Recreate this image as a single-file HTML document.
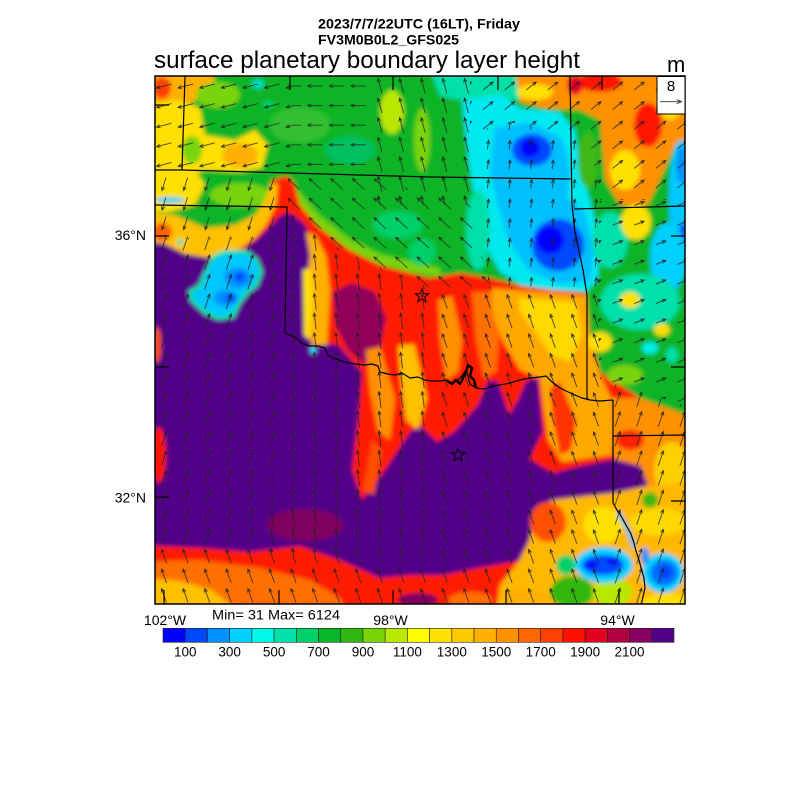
<!DOCTYPE html>
<html><head><meta charset="utf-8">
<style>
html,body{margin:0;padding:0;background:#fff}
svg{display:block}
text{font-family:"Liberation Sans",Arial,sans-serif;fill:#000}
</style></head>
<body>
<svg xmlns="http://www.w3.org/2000/svg" width="800" height="800" viewBox="0 0 800 800">
<defs>
<clipPath id="mc"><rect x="155" y="76" width="530" height="528"/></clipPath>
<filter id="bl" x="-10%" y="-10%" width="120%" height="120%"><feGaussianBlur stdDeviation="2"/></filter>
<path id="star" d="M0,-7 L1.705,-2.346 6.657,-2.163 2.758,0.896 4.114,5.663 0,2.9 -4.114,5.663 -2.758,0.896 -6.657,-2.163 -1.705,-2.346Z"/>
<g id="ar" fill="none" stroke="#222" stroke-width="0.75"></g>
<pattern id="pN" patternUnits="userSpaceOnUse" x="153.2" y="76.2" width="21.6" height="19.6"><path d="M11.8,17.8L9.8,1.8M8.64,5.63L9.8,1.8L11.87,5.22" fill="none" stroke="#222" stroke-width="0.75"/></pattern>
<pattern id="pNNE" patternUnits="userSpaceOnUse" x="153.2" y="76.2" width="21.6" height="19.6"><path d="M8.3,17.3L13.3,2.3M10.6,5.25L13.3,2.3L13.69,6.28" fill="none" stroke="#222" stroke-width="0.75"/></pattern>
<pattern id="pNNW" patternUnits="userSpaceOnUse" x="153.2" y="76.2" width="21.6" height="19.6"><path d="M13.3,16.8L8.3,2.8M8.0,6.79L8.3,2.8L11.06,5.69" fill="none" stroke="#222" stroke-width="0.75"/></pattern>
<pattern id="pWSW" patternUnits="userSpaceOnUse" x="153.2" y="76.2" width="21.6" height="19.6"><path d="M18.3,7.8L3.3,11.8M7.25,12.43L3.3,11.8L6.41,9.29" fill="none" stroke="#222" stroke-width="0.75"/></pattern>
<pattern id="pS" patternUnits="userSpaceOnUse" x="153.2" y="76.2" width="21.6" height="19.6"><path d="M12.8,3.3L8.8,16.3M11.43,13.29L8.8,16.3L8.32,12.33" fill="none" stroke="#222" stroke-width="0.75"/></pattern>
<pattern id="pNW" patternUnits="userSpaceOnUse" x="153.2" y="76.2" width="21.6" height="19.6"><path d="M16.8,15.3L4.8,4.3M6.39,7.97L4.8,4.3L8.59,5.57" fill="none" stroke="#222" stroke-width="0.75"/></pattern>
<pattern id="pW" patternUnits="userSpaceOnUse" x="153.2" y="76.2" width="21.6" height="19.6"><path d="M18.3,9.8L3.3,9.8M6.95,8.17L3.3,9.8L6.95,11.43" fill="none" stroke="#222" stroke-width="0.75"/></pattern>
<pattern id="pNE" patternUnits="userSpaceOnUse" x="153.2" y="76.2" width="21.6" height="19.6"><path d="M5.8,13.8L15.8,5.8M11.93,6.81L15.8,5.8L13.96,9.35" fill="none" stroke="#222" stroke-width="0.75"/></pattern>
<pattern id="pENE" patternUnits="userSpaceOnUse" x="153.2" y="76.2" width="21.6" height="19.6"><path d="M5.8,11.8L15.8,7.8M11.81,7.65L15.8,7.8L13.01,10.67" fill="none" stroke="#222" stroke-width="0.75"/></pattern>
<pattern id="pUP" patternUnits="userSpaceOnUse" x="153.2" y="76.2" width="21.6" height="19.6"><path d="M10.3,14.3L11.3,5.3M9.28,8.75L11.3,5.3L12.52,9.11" fill="none" stroke="#222" stroke-width="0.75"/></pattern>
<pattern id="pN4" patternUnits="userSpaceOnUse" x="153.2" y="76.2" width="21.6" height="19.6"><path d="M12.8,17.3L8.8,2.3M8.17,6.25L8.8,2.3L11.31,5.41" fill="none" stroke="#222" stroke-width="0.75"/></pattern>
</defs>

<!-- Titles -->
<text x="318" y="28.5" font-size="14" font-weight="bold" textLength="202" lengthAdjust="spacingAndGlyphs">2023/7/7/22UTC (16LT), Friday</text>
<text x="318" y="44.5" font-size="14" font-weight="bold" textLength="141" lengthAdjust="spacingAndGlyphs">FV3M0B0L2_GFS025</text>
<text x="154" y="68" font-size="24" textLength="426" lengthAdjust="spacingAndGlyphs">surface planetary boundary layer height</text>
<text x="667" y="72" font-size="22">m</text>

<g clip-path="url(#mc)">
<g filter="url(#bl)">
<rect x="140" y="60" width="570" height="570" fill="#520088"/>
<!-- warm region -->
<path fill="#ff1c00" d="M250,175 L300,170 440,250 600,280 700,330 700,620 140,620 140,545 200,548 250,552 300,546 340,560 380,578 410,575 444,575 478,568 519,561 529,541 536,507 553,500 614,493 648,486 641,466 614,459 580,466 553,473 529,459 543,432 538,378 526,381 519,398 509,415 498,381 488,381 478,405 454,432 437,442 420,425 410,432 385,470 362,500 352,470 358,420 362,372 338,345 310,340 306,282 312,248 307,228 300,220 288,212 280,216 270,226 258,238 240,252 Z"/>
<path fill="#ffb000" d="M306,232 L316,236 326,256 330,290 327,345 312,345 306,300 310,255Z"/>
<path fill="#ffe000" d="M303,270 L311,268 313,300 310,340 304,335Z"/>
<path fill="#90005a" d="M333,292 L352,283 375,292 386,318 380,348 366,365 348,350 336,326Z"/>
<path fill="#ff9000" d="M366,350 L380,347 395,398 390,440 378,432 370,392Z"/>
<path fill="#ffc000" d="M398,346 L414,344 427,398 418,430 406,420 401,382Z"/>
<path fill="#ff5000" d="M372,440 L382,450 374,495 363,490Z"/>
<path fill="#ff9000" d="M438,300 L452,296 462,340 458,372 446,380 440,340Z"/>
<path fill="#ff7000" d="M472,292 L492,292 500,330 496,372 484,378 476,340Z"/>
<path fill="#ffa800" d="M492,288 L586,296 590,340 600,375 612,400 612,455 590,458 562,462 548,440 544,410 540,378 520,370 502,340 492,310Z"/>
<path fill="#ffd800" d="M518,298 L576,302 582,335 570,362 552,356 534,330 520,312Z"/>
<path fill="#ff3000" d="M550,388 L560,382 576,420 571,450 560,455 553,420Z"/>
<path fill="#ff9000" d="M612,398 L640,398 700,420 700,480 648,486 641,466 614,459 612,430Z"/>
<ellipse cx="672" cy="470" rx="18" ry="28" fill="#ffd000"/>
<ellipse cx="630" cy="440" rx="14" ry="10" fill="#ff2000"/>
<path fill="#ffb800" d="M529,541 L536,507 553,500 614,493 648,486 700,480 700,620 495,620 500,585 519,561Z"/>
<ellipse cx="548" cy="522" rx="18" ry="20" fill="#ff5000"/>
<ellipse cx="603" cy="525" rx="20" ry="18" fill="#ffe000"/>
<ellipse cx="658" cy="522" rx="28" ry="14" fill="#ffd800"/>
<ellipse cx="650" cy="500" rx="8" ry="8" fill="#40b818"/>
<ellipse cx="572" cy="592" rx="22" ry="16" fill="#30b810"/>
<ellipse cx="612" cy="592" rx="20" ry="14" fill="#b8e800"/>
<ellipse cx="566" cy="565" rx="10" ry="10" fill="#00d068"/>
<ellipse cx="668" cy="602" rx="26" ry="8" fill="#ffe000"/>
<ellipse cx="604" cy="565" rx="29" ry="18" fill="#00d0ff"/>
<ellipse cx="603" cy="565" rx="21" ry="10" fill="#0048ff"/>
<ellipse cx="592" cy="565" rx="6" ry="4" fill="#0000ff"/>
<ellipse cx="613" cy="561" rx="6" ry="4" fill="#0000ff"/>
<ellipse cx="663" cy="573" rx="21" ry="20" fill="#00d0ff"/>
<ellipse cx="664" cy="573" rx="14" ry="13" fill="#0070ff"/>
<ellipse cx="665" cy="572" rx="6" ry="7" fill="#0040ff"/>
<ellipse cx="645" cy="556" rx="4" ry="9" fill="#0090ff"/>
<path fill="none" stroke="#00c0ff" stroke-width="4" d="M618,512 L628,530 634,548"/>
<path fill="#ff7000" d="M140,562 L200,560 260,568 310,580 340,598 352,620 140,620Z"/>
<path fill="#ffc000" d="M140,578 L180,581 212,590 232,606 236,620 140,620Z"/>
<ellipse cx="470" cy="600" rx="22" ry="8" fill="#ff7000"/>
<ellipse cx="525" cy="598" rx="22" ry="10" fill="#ffb000"/>
<ellipse cx="418" cy="600" rx="20" ry="7" fill="#800060"/>
<ellipse cx="305" cy="525" rx="38" ry="16" fill="#800060"/>
<ellipse cx="159" cy="455" rx="7" ry="28" fill="#ff1800"/>
<ellipse cx="157" cy="345" rx="4" ry="18" fill="#ff5000"/>

<!-- north green region -->
<path fill="#08b428" d="M140,60 L700,60 700,420 640,398 600,372 590,335 586,293 552,290 521,286 494,279 461,273 430,278 410,273 380,265 350,250 320,228 300,205 294,183 288,176 272,180 270,195 265,218 255,235 235,250 210,256 185,252 165,242 140,236Z"/>
<path fill="#ffb000" d="M140,60 L205,60 215,80 200,98 175,110 140,112Z"/>
<ellipse cx="162" cy="88" rx="9" ry="11" fill="#ff4000"/>
<path fill="#ffe000" d="M140,105 L180,100 200,108 205,135 235,140 255,130 268,145 262,168 240,172 205,170 185,178 165,190 140,198Z"/>
<ellipse cx="218" cy="95" rx="22" ry="13" fill="#78d408"/>
<ellipse cx="192" cy="150" rx="10" ry="14" fill="#78d408"/>
<ellipse cx="240" cy="155" rx="18" ry="12" fill="#ffb000"/>
<path fill="#ffe000" d="M140,168 L195,170 205,185 195,205 170,212 140,212Z"/>
<ellipse cx="240" cy="195" rx="30" ry="12" fill="#78d408"/>
<path fill="#ffc000" d="M140,212 L175,215 205,228 235,225 255,215 266,198 270,184 278,184 276,205 266,225 255,238 235,252 210,258 185,254 165,244 140,240Z"/>
<ellipse cx="162" cy="232" rx="10" ry="9" fill="#ff6000"/>
<ellipse cx="170" cy="200" rx="15" ry="3" fill="#00d0ff"/>
<path fill="#78d408" d="M296,188 L318,214 348,238 380,254 420,264 440,268 440,276 410,272 380,264 350,250 320,228 300,205Z"/>
<ellipse cx="398" cy="225" rx="25" ry="14" fill="#00d068"/>
<ellipse cx="422" cy="252" rx="14" ry="14" fill="#00d068"/>
<ellipse cx="258" cy="84" rx="6" ry="5" fill="#00e0c0"/>
<ellipse cx="268" cy="104" rx="5" ry="4" fill="#00d068"/>
<ellipse cx="392" cy="112" rx="12" ry="22" fill="#b8e800"/>
<ellipse cx="422" cy="140" rx="8" ry="32" fill="#78d408"/>
<ellipse cx="300" cy="125" rx="30" ry="18" fill="#30c030"/>
<ellipse cx="350" cy="150" rx="25" ry="14" fill="#00c060"/>
<path fill="#00e0a8" d="M430,70 L520,68 520,100 470,102 440,96Z"/>
<path fill="#00e8f0" d="M462,100 L500,94 520,108 560,112 575,130 580,165 590,200 600,240 598,280 586,292 552,290 521,285 500,272 485,245 476,210 470,170 465,130Z"/>
<path fill="#00c0ff" d="M495,128 L530,122 562,138 570,170 567,198 585,212 594,250 590,282 560,284 530,272 508,240 498,205 490,170Z"/>
<ellipse cx="532" cy="150" rx="20" ry="16" fill="#0048ff"/>
<ellipse cx="530" cy="148" rx="10" ry="9" fill="#0000ff"/>
<ellipse cx="558" cy="245" rx="26" ry="26" fill="#0048ff"/>
<ellipse cx="550" cy="240" rx="14" ry="14" fill="#0000ff"/>
<ellipse cx="478" cy="230" rx="12" ry="40" fill="#00e0a8"/>
<path fill="#ff9000" d="M515,68 L700,68 700,135 675,145 662,175 648,205 620,205 605,180 600,120 580,110 545,108 520,102Z"/>
<ellipse cx="600" cy="82" rx="22" ry="10" fill="#ff1800"/>
<ellipse cx="648" cy="125" rx="14" ry="22" fill="#ff1800"/>
<ellipse cx="575" cy="85" rx="8" ry="10" fill="#e00020"/>
<ellipse cx="535" cy="92" rx="18" ry="8" fill="#ffe000"/>
<ellipse cx="625" cy="170" rx="15" ry="20" fill="#ffe000"/>
<ellipse cx="670" cy="100" rx="12" ry="20" fill="#ffe000"/>
<ellipse cx="588" cy="160" rx="10" ry="28" fill="#40b818"/>
<ellipse cx="681" cy="200" rx="12" ry="60" fill="#00c8ff"/>
<ellipse cx="682" cy="165" rx="6" ry="18" fill="#0090ff"/>
<ellipse cx="684" cy="232" rx="5" ry="8" fill="#0048ff"/>
<ellipse cx="610" cy="240" rx="18" ry="28" fill="#00e0a8"/>
<ellipse cx="636" cy="222" rx="15" ry="18" fill="#ffe000"/>
<ellipse cx="668" cy="258" rx="18" ry="35" fill="#00d0ff"/>
<ellipse cx="640" cy="302" rx="40" ry="28" fill="#00e0a8"/>
<ellipse cx="630" cy="300" rx="10" ry="8" fill="#ffe000"/>
<ellipse cx="662" cy="330" rx="8" ry="6" fill="#ffe000"/>
<ellipse cx="600" cy="342" rx="12" ry="10" fill="#ffe000"/>
<ellipse cx="650" cy="348" rx="8" ry="6" fill="#00f0e8"/>
<ellipse cx="672" cy="355" rx="6" ry="8" fill="#00e0a8"/>
<ellipse cx="625" cy="375" rx="18" ry="10" fill="#78d408"/>

<!-- lake blob -->
<path fill="#00e0a8" d="M213,255 L225,250 247,250 258,259 263,272 258,286 249,293 241,303 234,318 218,320 204,314 190,301 188,291 198,285 204,272Z"/>
<path fill="#00c8ff" d="M215,258 L226,254 246,254 255,261 259,272 254,284 246,290 238,301 231,314 219,316 206,310 194,299 193,293 202,287 207,273Z"/>
<ellipse cx="238" cy="278" rx="14" ry="10" fill="#0090ff"/>
<ellipse cx="226" cy="298" rx="12" ry="8" fill="#0090ff"/>
<ellipse cx="240" cy="277" rx="5" ry="5" fill="#0048ff"/>
<ellipse cx="230" cy="298" rx="5" ry="4" fill="#0048ff"/>
<circle cx="180" cy="242" r="5" fill="#ffe000"/>
<circle cx="180" cy="242" r="3" fill="#00d0c0"/>
<ellipse cx="313" cy="350" rx="3" ry="4" fill="#00e0ff"/>
</g>

<!-- wind arrows (pattern-filled regions) -->
<g stroke="none">
<path fill="url(#pWSW)" d="M155,76 H292 V172 H155Z"/>
<path fill="url(#pW)" d="M292,76 H372 V178 H292Z"/>
<path fill="url(#pN4)" d="M372,76 H470 V205 H372Z"/>
<path fill="url(#pNE)" d="M470,76 H685 V200 H600 L590,140 L500,120 L470,140Z"/>
<path fill="url(#pUP)" d="M470,140 L500,120 L590,140 L600,200 L597,292 L490,286 L475,230Z"/>
<path fill="url(#pENE)" d="M600,200 H685 V405 L600,380 L597,292Z"/>
<path fill="url(#pS)" d="M155,172 H288 V238 H155Z"/>
<path fill="url(#pNW)" d="M288,172 L372,178 L470,205 L475,230 L490,286 L440,292 L400,275 L340,250 L300,215 L288,215Z"/>
<path fill="url(#pNNE)" d="M155,238 L288,238 L280,300 L270,545 L155,545Z"/>
<path fill="url(#pN)" d="M288,215 L300,215 L340,250 L400,275 L440,292 L430,560 L270,560 L270,545 L280,300 L288,238Z"/>
<path fill="url(#pNNW)" d="M440,292 L490,286 L597,292 L600,380 L605,420 L605,604 L155,604 L155,545 L270,545 L270,560 L430,560Z"/>
<path fill="url(#pNNE)" d="M600,380 L685,405 L685,604 L605,604 L605,420Z"/>
</g>

<!-- boundaries -->
<g fill="none" stroke="#000" stroke-width="1.2" stroke-linejoin="round">
<path d="M185,76 L182,170"/>
<path d="M155,170 L182,170 L430,177 L572,179"/>
<path d="M570,76 L572,205 L575,232 L583,270 L587,295 L587,398 L589,400"/>
<path d="M574,209 L685,206"/>
<path d="M155,205 L287,207 L285,333"/>
<path d="M285,333 L290,335 296,338 303,344 310,346 318,346 325,348 328,355 333,358 345,362 355,364 365,365 372,364 378,366 380,372 388,374 395,375 402,373 410,378 418,377 425,380 432,381 440,381 447,380 452,383 458,380 462,376 466,370 468,376 470,384 476,388 485,389 492,386 500,385 510,383 520,380 530,378 540,377 546,376 552,382 560,388 566,391 575,395 582,398 590,400 600,401 613,400"/>
<path d="M613,400 L613,503 617,510 621,516 626,525 631,534 634,543 636,551 639,560 641,568 644,578 645,588 643,597 641,605"/>
<path d="M613,436 L685,435"/>
<path stroke-width="2.4" d="M447,381 L452,384 456,380 460,384 463,378 466,372 468,365 472,368 470,376 474,380 476,388"/>
<path d="M155,105 h14 M155,236 h14 M155,367 h14 M155,497 h14 M685,236 h-14 M685,367 h-14 M685,501 h-14 M164,604 v-14 M279,604 v-14 M393,604 v-14 M506,604 v-14 M619,604 v-14 M290,76 v14 M393,76 v14 M498,76 v14 M602,76 v14"/>
</g>
<g fill="none" stroke="#000" stroke-width="1">
<use href="#star" transform="translate(422,296)"/>
<use href="#star" transform="translate(458,455)"/>
</g>
</g>

<rect x="155" y="76" width="530" height="528" fill="none" stroke="#000" stroke-width="1.5"/>
<!-- ref vector -->
<rect x="657" y="76.5" width="28" height="37.5" fill="#fff" stroke="#000" stroke-width="1"/>
<text x="671" y="91" font-size="15" text-anchor="middle">8</text>
<path d="M660,101.7 L681.5,101.7 M676.5,99.5 L681.5,101.7 L676.5,103.9" fill="none" stroke="#333" stroke-width="0.9"/>

<!-- lat/lon labels -->
<text x="146" y="240" font-size="14" text-anchor="end">36°N</text>
<text x="146" y="502.7" font-size="14" text-anchor="end">32°N</text>
<text x="165" y="625" font-size="14" text-anchor="middle">102°W</text>
<text x="390.5" y="625" font-size="14" text-anchor="middle">98°W</text>
<text x="617.5" y="625" font-size="14" text-anchor="middle">94°W</text>
<text x="212" y="619.5" font-size="14" textLength="128" lengthAdjust="spacingAndGlyphs">Min= 31 Max= 6124</text>

<!-- colorbar -->
<g stroke="#222" stroke-width="0.6">
<rect x="163.00" y="628.3" width="22.22" height="14" fill="#0000ff"/>
<rect x="185.22" y="628.3" width="22.22" height="14" fill="#0048ff"/>
<rect x="207.43" y="628.3" width="22.22" height="14" fill="#0090ff"/>
<rect x="229.65" y="628.3" width="22.22" height="14" fill="#00d0ff"/>
<rect x="251.87" y="628.3" width="22.22" height="14" fill="#00f8e8"/>
<rect x="274.09" y="628.3" width="22.22" height="14" fill="#00e0a8"/>
<rect x="296.30" y="628.3" width="22.22" height="14" fill="#00d068"/>
<rect x="318.52" y="628.3" width="22.22" height="14" fill="#08b428"/>
<rect x="340.74" y="628.3" width="22.22" height="14" fill="#30b810"/>
<rect x="362.96" y="628.3" width="22.22" height="14" fill="#78d408"/>
<rect x="385.17" y="628.3" width="22.22" height="14" fill="#b8e800"/>
<rect x="407.39" y="628.3" width="22.22" height="14" fill="#ffff00"/>
<rect x="429.61" y="628.3" width="22.22" height="14" fill="#ffe000"/>
<rect x="451.83" y="628.3" width="22.22" height="14" fill="#ffc800"/>
<rect x="474.04" y="628.3" width="22.22" height="14" fill="#ffb000"/>
<rect x="496.26" y="628.3" width="22.22" height="14" fill="#ff9000"/>
<rect x="518.48" y="628.3" width="22.22" height="14" fill="#ff6800"/>
<rect x="540.70" y="628.3" width="22.22" height="14" fill="#ff4000"/>
<rect x="562.91" y="628.3" width="22.22" height="14" fill="#ff1000"/>
<rect x="585.13" y="628.3" width="22.22" height="14" fill="#e00020"/>
<rect x="607.35" y="628.3" width="22.22" height="14" fill="#b00040"/>
<rect x="629.57" y="628.3" width="22.22" height="14" fill="#880060"/>
<rect x="651.78" y="628.3" width="22.22" height="14" fill="#500088"/>
</g>
<g font-size="13.5" text-anchor="middle">
<text x="185.22" y="656.7">100</text>
<text x="229.65" y="656.7">300</text>
<text x="274.09" y="656.7">500</text>
<text x="318.52" y="656.7">700</text>
<text x="362.96" y="656.7">900</text>
<text x="407.39" y="656.7">1100</text>
<text x="451.83" y="656.7">1300</text>
<text x="496.26" y="656.7">1500</text>
<text x="540.70" y="656.7">1700</text>
<text x="585.13" y="656.7">1900</text>
<text x="629.57" y="656.7">2100</text>
</g>
</svg>
</body></html>
